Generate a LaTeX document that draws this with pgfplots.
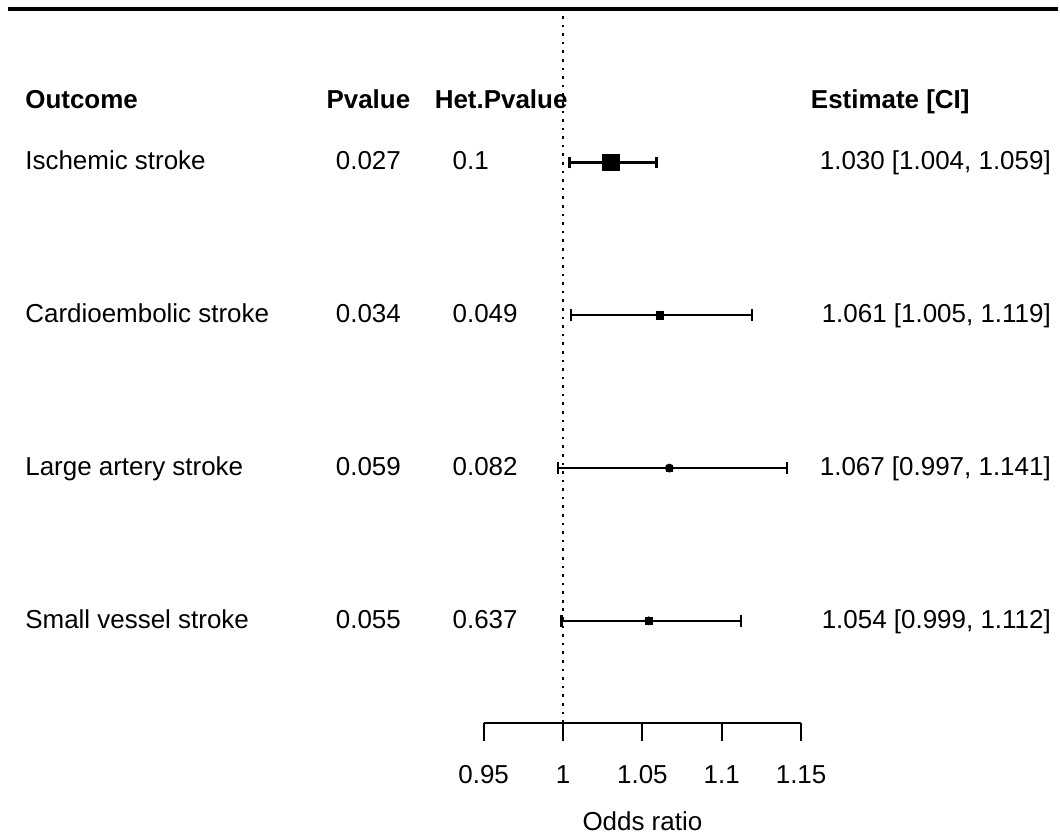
\documentclass[border=0pt]{standalone}
\usepackage{pgfplots}
\pgfplotsset{compat=1.18}
\usepackage{pgfplotstable}
\usepackage{fontspec}
\setmainfont{Liberation Sans}

\pgfplotstableread{
row est lo hi msz
4 1.030 1.004 1.059 4.2
3 1.061 1.005 1.119 1.9
2 1.067 0.997 1.141 1.45
1 1.054 0.999 1.112 1.75
}\fdata

\begin{document}
\begin{tikzpicture}[font=\fontsize{13}{15.6}\selectfont]
\begin{axis}[
  scale only axis, width=159pt, height=362pt,
  xmin=0.95, xmax=1.15, ymin=0.334, ymax=5.063,
  clip=false,
  axis x line=bottom, axis y line=none,
  x axis line style={-, line width=1pt, black},
  xtick={0.95,1,1.05,1.1,1.15},
  xticklabels={0.95,1,1.05,1.1,1.15},
  tick align=outside, major tick length=9pt,
  xtick style={line width=1pt, black},
  xticklabel style={font=\fontsize{13}{15.6}\selectfont, yshift=-9pt},
  /pgf/number format/assume math mode=true,
]
% top rule
\addplot[black, line width=1.85pt, forget plot] coordinates {(0.65031,5.0026) (1.31195,5.0026)};
% reference line at OR = 1
\addplot[black, line width=1.1pt, dash pattern=on 1.3pt off 3pt, forget plot] coordinates {(1,0.334) (1,5.0026)};
% confidence intervals
\addplot[only marks, mark=none, forget plot,
  error bars/.cd, x dir=both, x explicit,
  error bar style={line width=1.2pt, black, solid},
  error mark=|,
  error mark options={line width=1.2pt, mark size=2.9pt, black}]
  table[x=est, y=row,
        x error plus expr=\thisrow{hi}-\thisrow{est},
        x error minus expr=\thisrow{est}-\thisrow{lo}] {\fdata};
% point estimates
\addplot[only marks, mark=square*, black, scatter, forget plot,
  scatter/use mapped color={draw=black, fill=black},
  visualization depends on={\thisrow{msz}\as\msz},
  scatter/@pre marker code/.append style={/tikz/mark size=\msz}]
  table[x=est, y=row] {\fdata};

% headers
\begin{scope}[every node/.style={inner sep=0pt, text height=0.72em, text depth=0pt, font=\fontsize{13}{15.6}\selectfont\bfseries}]
\node[anchor=west] at (axis cs:0.66101,4.403) {Outcome};
\node[anchor=center] at (axis cs:0.87736,4.403) {Pvalue};
\node[anchor=center] at (axis cs:0.96101,4.403) {Het.Pvalue};
\node[anchor=west] at (axis cs:1.15597,4.403) {Estimate [CI]};
\end{scope}
% rows
\begin{scope}[every node/.style={inner sep=0pt, text height=0.72em, text depth=0pt, font=\fontsize{13}{15.6}\selectfont}]
\node[anchor=west] at (axis cs:0.66101,4) {Ischemic stroke};
\node[anchor=west] at (axis cs:0.66101,3) {Cardioembolic stroke};
\node[anchor=west] at (axis cs:0.66101,2) {Large artery stroke};
\node[anchor=west] at (axis cs:0.66101,1) {Small vessel stroke};
\node[anchor=center] at (axis cs:0.87736,4) {0.027};
\node[anchor=center] at (axis cs:0.87736,3) {0.034};
\node[anchor=center] at (axis cs:0.87736,2) {0.059};
\node[anchor=center] at (axis cs:0.87736,1) {0.055};
\node[anchor=west] at (axis cs:0.93019,4) {0.1};
\node[anchor=west] at (axis cs:0.93019,3) {0.049};
\node[anchor=west] at (axis cs:0.93019,2) {0.082};
\node[anchor=west] at (axis cs:0.93019,1) {0.637};
\node[anchor=east] at (axis cs:1.30755,4) {1.030 [1.004, 1.059]};
\node[anchor=east] at (axis cs:1.30755,3) {1.061 [1.005, 1.119]};
\node[anchor=east] at (axis cs:1.30755,2) {1.067 [0.997, 1.141]};
\node[anchor=east] at (axis cs:1.30755,1) {1.054 [0.999, 1.112]};
\node[anchor=center] at (axis cs:1.05,-0.322) {Odds ratio};
\end{scope}
% picture extent
\path (axis cs:0.645283,-0.40431) rectangle (axis cs:1.311950,5.0627);
\end{axis}
\end{tikzpicture}
\end{document}
